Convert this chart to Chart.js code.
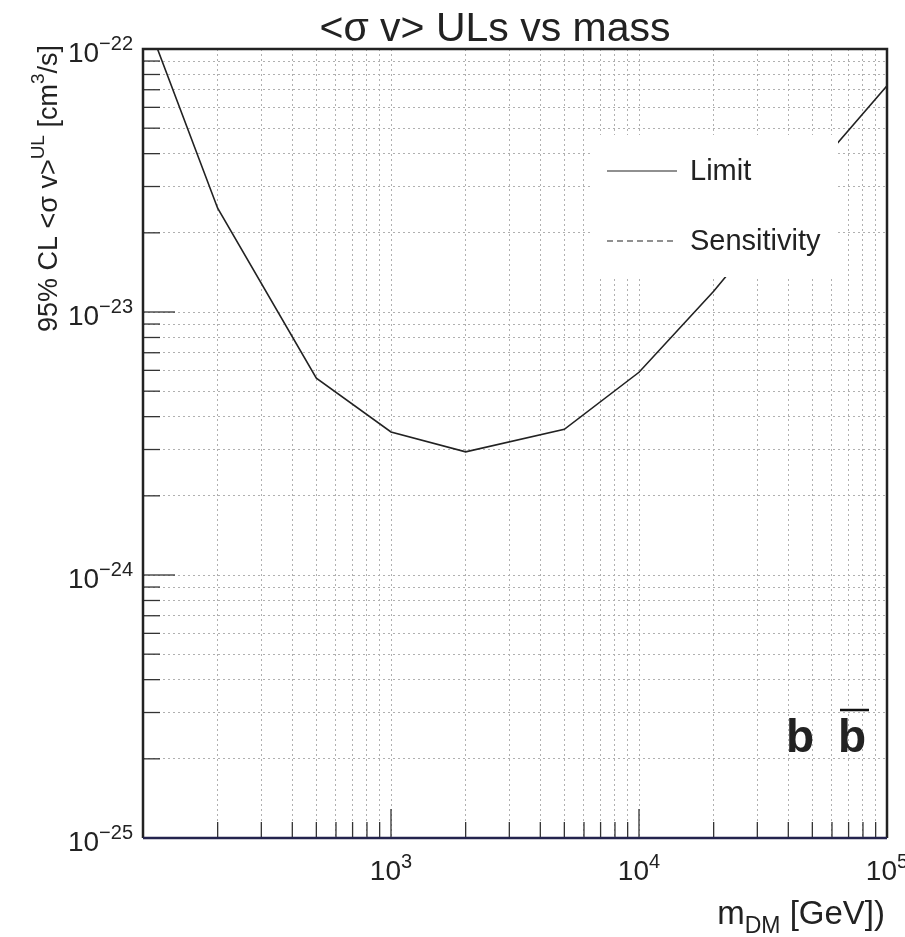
<!DOCTYPE html>
<html>
<head>
<meta charset="utf-8">
<script src="https://cdn.jsdelivr.net/npm/chart.js@4.4.1/dist/chart.umd.min.js"></script>
<style>
  html, body { margin: 0; padding: 0; background: #fff; }
  #wrap { width: 905px; height: 937px; }
</style>
</head>
<body>
<div id="wrap"><canvas id="ul" width="905" height="937"></canvas></div>
<script>
const FONT = '"Liberation Sans", Arial, Helvetica, sans-serif';

// mass points [GeV] and the 95% CL limit on <sigma v> [cm^3/s]
const massValues = [100, 200, 500, 1000, 2000, 5000, 10000, 20000, 50000, 100000];
const limitValues = [1.40e-22, 2.48e-23, 5.6e-24, 3.5e-24, 2.94e-24, 3.58e-24, 5.9e-24, 1.2e-23, 3.4e-23, 7.25e-23];
const sensitivityValues = [];

// axis ranges and labelled decades
const xRange = [100, 100000];
const yRange = [1e-25, 1e-22];
const xMajorExps = [3, 4, 5];
const yMajorExps = [-25, -24, -23, -22];

function decadeGrid(lo, hi) {
  const out = [];
  for (let e = Math.round(Math.log10(lo)); e < Math.round(Math.log10(hi)); e++) {
    for (let k = 1; k < 10; k++) out.push(k * Math.pow(10, e));
  }
  out.push(hi);
  return out;
}
const xGridValues = decadeGrid(xRange[0], xRange[1]);
const yGridValues = decadeGrid(yRange[0], yRange[1]);
const isMajor = (v) => Math.abs(Math.log10(v) - Math.round(Math.log10(v))) < 1e-6;

// draw a run of text pieces (base / superscript / subscript)
function richWidth(ctx, parts) {
  let w = 0;
  for (const p of parts) {
    ctx.font = `${p.bold ? 'bold ' : ''}${p.size}px ${FONT}`;
    w += ctx.measureText(p.t).width;
  }
  return w;
}
function drawRich(ctx, parts, x, y, align) {
  const w = richWidth(ctx, parts);
  let cx = align === 'right' ? x - w : align === 'center' ? x - w / 2 : x;
  ctx.textAlign = 'left';
  ctx.textBaseline = 'alphabetic';
  for (const p of parts) {
    ctx.font = `${p.bold ? 'bold ' : ''}${p.size}px ${FONT}`;
    ctx.fillText(p.t, cx, y + (p.dy || 0));
    cx += ctx.measureText(p.t).width;
  }
}
const pow10 = (e) => [
  { t: '10', size: 28 },
  { t: String(e).replace('-', '\u2212'), size: 20, dy: -12 },
];

const rootStyle = {
  id: 'rootStyle',
  afterDraw(chart) {
    const { ctx, chartArea: a, scales: { x, y } } = chart;
    ctx.save();

    // legend box sits on top of grid and curve
    const lx = 590, ly = 135, lw = 248, lh = 142;
    ctx.fillStyle = '#fff';
    ctx.fillRect(lx, ly, lw, lh);
    chart.data.datasets.forEach((ds, i) => {
      const ry = 171 + i * 70;
      ctx.beginPath();
      ctx.lineWidth = 1.2;
      ctx.strokeStyle = '#222';
      ctx.setLineDash(ds.borderDash || []);
      ctx.moveTo(607, ry);
      ctx.lineTo(677, ry);
      ctx.stroke();
      ctx.setLineDash([]);
      ctx.fillStyle = '#222';
      ctx.font = `29px ${FONT}`;
      ctx.textAlign = 'left';
      ctx.textBaseline = 'middle';
      ctx.fillText(ds.label, 690, ry + 1);
    });

    // inward tick marks
    ctx.lineWidth = 1.3;
    ctx.strokeStyle = '#333';
    xGridValues.forEach((v) => {
      const px = x.getPixelForValue(v);
      const len = isMajor(v) ? 29 : 16;
      ctx.beginPath();
      ctx.moveTo(px, a.bottom);
      ctx.lineTo(px, a.bottom - len);
      ctx.stroke();
    });
    yGridValues.forEach((v) => {
      const py = y.getPixelForValue(v);
      const len = isMajor(v) ? 32 : 17;
      ctx.beginPath();
      ctx.moveTo(a.left, py);
      ctx.lineTo(a.left + len, py);
      ctx.stroke();
    });

    // frame
    ctx.lineWidth = 2.5;
    ctx.strokeStyle = '#222';
    ctx.beginPath();
    ctx.moveTo(a.left, a.bottom);
    ctx.lineTo(a.left, a.top);
    ctx.lineTo(a.right, a.top);
    ctx.lineTo(a.right, a.bottom);
    ctx.stroke();
    ctx.strokeStyle = '#24244e';
    ctx.beginPath();
    ctx.moveTo(a.left, a.bottom);
    ctx.lineTo(a.right, a.bottom);
    ctx.stroke();

    // tick labels
    ctx.fillStyle = '#222';
    xMajorExps.forEach((e) => {
      drawRich(ctx, pow10(e), x.getPixelForValue(Math.pow(10, e)), a.bottom + 42, 'center');
    });
    yMajorExps.forEach((e) => {
      drawRich(ctx, pow10(e), a.left - 10, y.getPixelForValue(Math.pow(10, e)) + 13, 'right');
    });

    // titles
    drawRich(ctx, [{ t: '<\u03c3 v> ULs vs mass', size: 41 }], 495, 41, 'center');
    drawRich(ctx, [
      { t: 'm', size: 33 },
      { t: 'DM', size: 23, dy: 9 },
      { t: ' [GeV])', size: 33 },
    ], 885, 924, 'right');
    ctx.save();
    ctx.translate(57, a.top - 4);
    ctx.rotate(-Math.PI / 2);
    drawRich(ctx, [
      { t: '95% CL <\u03c3 v>', size: 27 },
      { t: 'UL', size: 19, dy: -13 },
      { t: ' [cm', size: 27 },
      { t: '3', size: 19, dy: -13 },
      { t: '/s]', size: 27 },
    ], 0, 0, 'right');
    ctx.restore();

    // channel tag
    drawRich(ctx, [{ t: 'b', size: 46, bold: true }], 786, 752, 'left');
    drawRich(ctx, [{ t: 'b', size: 46, bold: true }], 838, 752, 'left');
    ctx.lineWidth = 2.5;
    ctx.strokeStyle = '#111';
    ctx.beginPath();
    ctx.moveTo(840, 710);
    ctx.lineTo(869, 710);
    ctx.stroke();

    ctx.restore();
  },
};

const gridOpts = { color: '#b0b0b0', lineWidth: 1, drawTicks: false };

new Chart(document.getElementById('ul'), {
  type: 'line',
  data: {
    datasets: [
      {
        label: 'Limit',
        data: massValues.map((m, i) => ({ x: m, y: limitValues[i] })),
        borderColor: '#222',
        borderWidth: 1.6,
        pointRadius: 0,
        tension: 0,
      },
      {
        label: 'Sensitivity',
        data: sensitivityValues,
        borderColor: '#222',
        borderWidth: 1.2,
        borderDash: [6, 4],
        pointRadius: 0,
      },
    ],
  },
  options: {
    responsive: false,
    animation: false,
    layout: { padding: { left: 143, top: 49, right: 18, bottom: 99 } },
    plugins: { legend: { display: false }, tooltip: { enabled: false } },
    scales: {
      x: {
        type: 'logarithmic',
        min: xRange[0],
        max: xRange[1],
        afterBuildTicks: (s) => { s.ticks = xGridValues.map((v) => ({ value: v })); },
        ticks: { display: false },
        grid: gridOpts,
        border: { display: false, dash: [2, 3] },
      },
      y: {
        type: 'logarithmic',
        min: yRange[0],
        max: yRange[1],
        afterBuildTicks: (s) => { s.ticks = yGridValues.map((v) => ({ value: v })); },
        ticks: { display: false },
        grid: gridOpts,
        border: { display: false, dash: [2, 3] },
      },
    },
  },
  plugins: [rootStyle],
});
</script>
</body>
</html>
